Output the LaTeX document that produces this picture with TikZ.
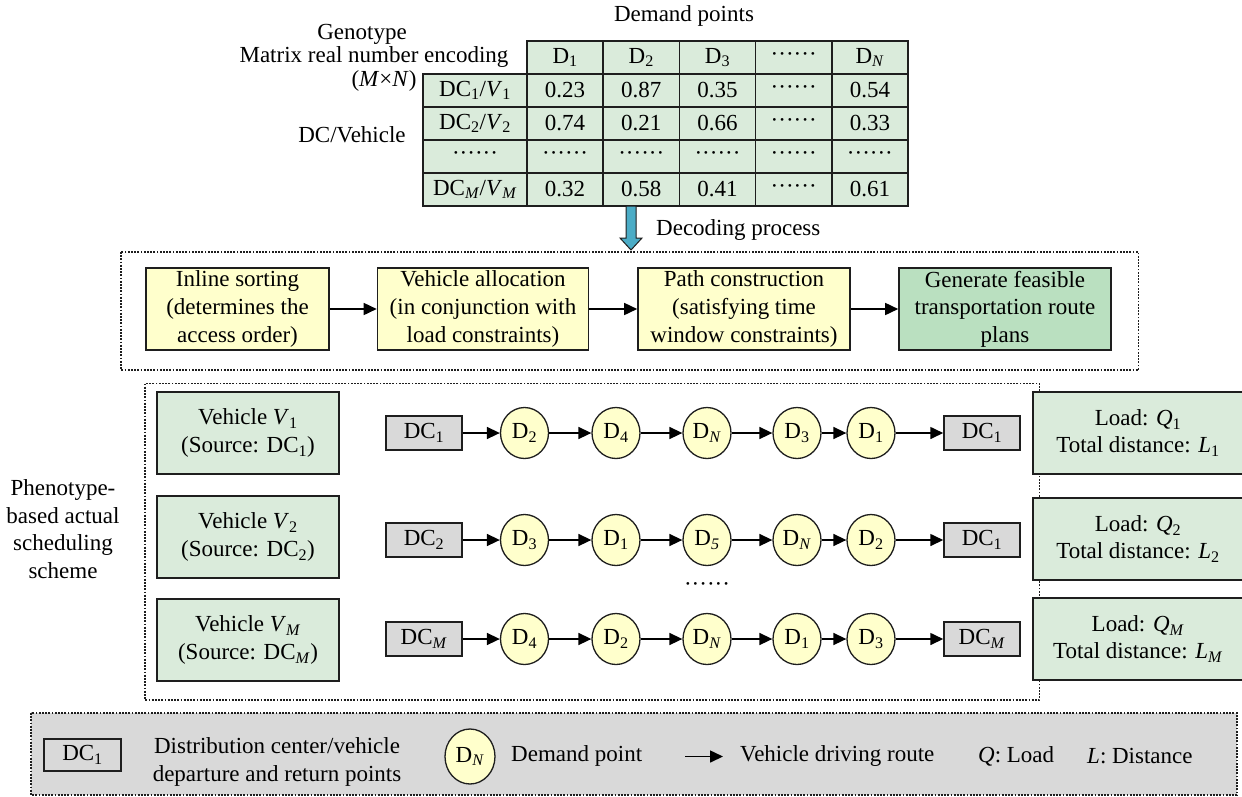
\documentclass[tikz,border=0pt]{standalone}
\usepackage{fontspec}
\setmainfont{Liberation Serif}
\usetikzlibrary{arrows.meta,shapes.geometric}
\definecolor{tgreen}{RGB}{218,235,219}
\definecolor{ggreen}{RGB}{186,224,192}
\definecolor{pyellow}{RGB}{255,255,204}
\definecolor{pgray}{RGB}{217,217,217}
\definecolor{arrblue}{RGB}{75,172,198}
\definecolor{edge}{RGB}{30,30,30}
\newcommand{\sixdots}{\makebox[38pt]{·\hfill·\hfill·\hfill·\hfill·\hfill·}}
\begin{document}
\begin{tikzpicture}[x=1pt,y=-1pt,
  font=\fontsize{23}{27.6}\selectfont,
  cell/.style={draw=edge, line width=1.5pt, fill=tgreen, minimum width=76.2pt, minimum height=33pt, inner sep=0pt},
  hcell/.style={cell, minimum width=104pt},
  txt/.style={inner sep=0pt, align=center},
  frame/.style={draw=edge, line width=1.5pt, dash pattern=on 1.8pt off 1.4pt},
  ybox/.style={draw=edge, line width=1.6pt, fill=pyellow, minimum width=183pt, minimum height=82pt, inner sep=0pt, align=center},
  gbox/.style={draw=edge, line width=1.6pt, fill=tgreen, minimum height=82pt, inner sep=0pt, align=center},
  dcbox/.style={draw=edge, line width=1.5pt, fill=pgray, minimum width=76pt, minimum height=34pt, inner sep=0pt},
  dnode/.style={ellipse, draw=edge, line width=1.3pt, fill=pyellow, minimum width=48pt, minimum height=51pt, inner sep=0pt},
  arr/.style={draw=black, line width=1.6pt, -{Triangle[length=13pt,width=12pt]}}
]
\useasboundingbox (0,0) rectangle (1242,796);

% ---------- Genotype part ----------
\node[txt] (dp) at (684,16) {Demand points};
\node[txt] (geno) at (362,34) {Genotype};
\node[txt] (enc) at (374,57) {Matrix real number encoding};
\node[txt] (mn) at (384,81) {(\textit{M}×\textit{N})};
\node[txt] (dcv) at (352,135) {DC/Vehicle};

% header row
\node[cell] (h1) at (565.1,57.5) {D\textsubscript{1}};
\node[cell] (h2) at (641.3,57.5) {D\textsubscript{2}};
\node[cell] (h3) at (717.5,57.5) {D\textsubscript{3}};
\node[cell] (h4) at (793.7,57.5) {\sixdots};
\node[cell] (h5) at (869.9,57.5) {D\textsubscript{\textit{N}}};
% row 1
\node[hcell] (r1) at (475,90.5) {DC\textsubscript{1}/\textit{V}\textsubscript{1}};
\node[cell] (c11) at (565.1,90.5) {0.23};
\node[cell] (c12) at (641.3,90.5) {0.87};
\node[cell] (c13) at (717.5,90.5) {0.35};
\node[cell] (c14) at (793.7,90.5) {\sixdots};
\node[cell] (c15) at (869.9,90.5) {0.54};
% row 2
\node[hcell] (r2) at (475,123.5) {DC\textsubscript{2}/\textit{V}\textsubscript{2}};
\node[cell] (c21) at (565.1,123.5) {0.74};
\node[cell] (c22) at (641.3,123.5) {0.21};
\node[cell] (c23) at (717.5,123.5) {0.66};
\node[cell] (c24) at (793.7,123.5) {\sixdots};
\node[cell] (c25) at (869.9,123.5) {0.33};
% row 3
\node[hcell] (r3) at (475,156.5) {\sixdots};
\node[cell] (c31) at (565.1,156.5) {\sixdots};
\node[cell] (c32) at (641.3,156.5) {\sixdots};
\node[cell] (c33) at (717.5,156.5) {\sixdots};
\node[cell] (c34) at (793.7,156.5) {\sixdots};
\node[cell] (c35) at (869.9,156.5) {\sixdots};
% row M
\node[hcell] (r4) at (475,189.5) {DC\textsubscript{\textit{M}}/\textit{V}\textsubscript{\textit{M}}};
\node[cell] (c41) at (565.1,189.5) {0.32};
\node[cell] (c42) at (641.3,189.5) {0.58};
\node[cell] (c43) at (717.5,189.5) {0.41};
\node[cell] (c44) at (793.7,189.5) {\sixdots};
\node[cell] (c45) at (869.9,189.5) {0.61};

% decoding arrow
\filldraw[fill=arrblue, draw=edge, line width=1pt]
  (626,206) -- (636,206) -- (636,238) -- (642,238) -- (631,250) -- (620,238) -- (626,238) -- cycle;
\node[txt, anchor=west] (decp) at (656,230) {Decoding process};

% ---------- Decoding frame ----------
\draw[frame] (121,252) rectangle (1138.5,370);
\node[ybox] (s1) at (237.5,309) {Inline sorting\\(determines the\\access order)};
\node[ybox, minimum width=211pt] (s2) at (483,309) {Vehicle allocation\\(in conjunction with\\load constraints)};
\node[ybox, minimum width=212pt] (s3) at (744,309) {Path construction\\(satisfying time\\window constraints)};
\node[ybox, fill=ggreen, minimum width=212pt] (s4) at (1005,309) {Generate feasible\\transportation route\\plans};
\draw[arr] (s1) -- (s2);
\draw[arr] (s2) -- (s3);
\draw[arr] (s3) -- (s4);

% ---------- Phenotype frame ----------
\node[txt] (pheno) at (63,529) {Phenotype-\\based actual\\scheduling\\scheme};
\draw[frame] (145,383.5) rectangle (1039.5,700);

\node[gbox, minimum width=182pt] (v1) at (248,433) {Vehicle \textit{V}\textsubscript{1}\\(Source: DC\textsubscript{1})};
\node[gbox, minimum width=182pt] (v2) at (248,537) {Vehicle \textit{V}\textsubscript{2}\\(Source: DC\textsubscript{2})};
\node[gbox, minimum width=182pt] (vm) at (248,640) {Vehicle \textit{V}\textsubscript{\textit{M}}\\(Source: DC\textsubscript{\textit{M}})};

\node[gbox, minimum width=210pt] (l1) at (1138,433) {Load: \textit{Q}\textsubscript{1}\\Total distance: \textit{L}\textsubscript{1}};
\node[gbox, minimum width=210pt] (l2) at (1138,539) {Load: \textit{Q}\textsubscript{2}\\Total distance: \textit{L}\textsubscript{2}};
\node[gbox, minimum width=210pt] (lm) at (1138,639) {Load: \textit{Q}\textsubscript{\textit{M}}\\Total distance: \textit{L}\textsubscript{\textit{M}}};

% route 1
\node[dcbox] (a0) at (424,433) {DC\textsubscript{1}};
\node[dnode] (a1) at (524.5,433) {D\textsubscript{2}};
\node[dnode] (a2) at (616,433) {D\textsubscript{4}};
\node[dnode] (a3) at (707,433) {D\textsubscript{\textit{N}}};
\node[dnode] (a4) at (797,433) {D\textsubscript{3}};
\node[dnode] (a5) at (871,433) {D\textsubscript{1}};
\node[dcbox] (a6) at (982,433) {DC\textsubscript{1}};
\foreach \i/\j in {a0/a1,a1/a2,a2/a3,a3/a4,a4/a5,a5/a6} \draw[arr] (\i) -- (\j);

% route 2
\node[dcbox] (b0) at (424,540) {DC\textsubscript{2}};
\node[dnode] (b1) at (524.5,540) {D\textsubscript{3}};
\node[dnode] (b2) at (616,540) {D\textsubscript{1}};
\node[dnode] (b3) at (707,540) {D\textsubscript{\textit{5}}};
\node[dnode] (b4) at (797,540) {D\textsubscript{\textit{N}}};
\node[dnode] (b5) at (871,540) {D\textsubscript{2}};
\node[dcbox] (b6) at (982,540) {DC\textsubscript{1}};
\foreach \i/\j in {b0/b1,b1/b2,b2/b3,b3/b4,b4/b5,b5/b6} \draw[arr] (\i) -- (\j);

\node[txt] (vdots) at (707,587) {\sixdots};

% route M
\node[dcbox] (m0) at (424,639) {DC\textsubscript{\textit{M}}};
\node[dnode] (m1) at (524.5,639) {D\textsubscript{4}};
\node[dnode] (m2) at (616,639) {D\textsubscript{2}};
\node[dnode] (m3) at (707,639) {D\textsubscript{\textit{N}}};
\node[dnode] (m4) at (797,639) {D\textsubscript{1}};
\node[dnode] (m5) at (871,639) {D\textsubscript{3}};
\node[dcbox] (m6) at (982,639) {DC\textsubscript{\textit{M}}};
\foreach \i/\j in {m0/m1,m1/m2,m2/m3,m3/m4,m4/m5,m5/m6} \draw[arr] (\i) -- (\j);

% ---------- Legend ----------
\draw[frame, fill=pgray] (31,713) rectangle (1237,795);
\node[draw=edge, line width=1.3pt, minimum width=77pt, minimum height=32pt, inner sep=0pt] (lg1) at (82.5,755) {DC\textsubscript{1}};
\node[txt] (lg1t) at (277,762) {Distribution center/vehicle\\departure and return points};
\node[dnode, minimum width=50pt, minimum height=55pt] (lg2) at (470,756.5) {D\textsubscript{\textit{N}}};
\node[txt, anchor=west] (lg2t) at (511,756) {Demand point};
\coordinate (la1) at (685,756.5);
\coordinate (la2) at (723,756.5);
\draw[arr] (la1) -- (la2);
\node[txt, anchor=west] (lg3t) at (740,756) {Vehicle driving route};
\node[txt, anchor=west] (lg4t) at (978,756) {\textit{Q}: Load};
\node[txt, anchor=west] (lg5t) at (1087,756) {\textit{L}: Distance};
\end{tikzpicture}
\end{document}
